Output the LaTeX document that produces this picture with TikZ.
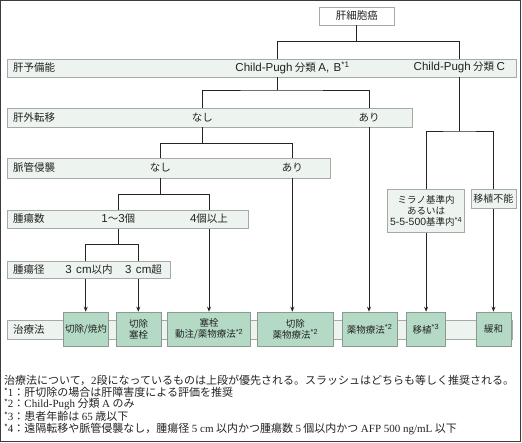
\documentclass[tikz,border=0pt]{standalone}
\usepackage{fontspec}
\setmainfont{Noto Sans CJK JP}
\newfontfamily\lserif{Liberation Serif}
\newfontfamily\lsans[Scale=1.1,WordSpace=1.4]{Liberation Sans}
\usetikzlibrary{arrows.meta}
\definecolor{bandfill}{RGB}{237,244,239}
\definecolor{bandline}{RGB}{165,170,167}
\definecolor{txfill}{RGB}{180,218,197}
\definecolor{txline}{RGB}{140,152,146}
\definecolor{ink}{RGB}{35,35,35}
\definecolor{framec}{RGB}{60,60,60}
\tikzset{
  band/.style={draw=bandline, fill=bandfill, line width=0.9pt, inner sep=0pt, anchor=north west},
  rootbox/.style={draw=bandline, fill=white, line width=0.9pt, inner sep=0pt, font=\fontsize{10.5}{12}\selectfont, text=ink},
  txbox/.style={draw=txline, fill=txfill, line width=0.9pt, inner sep=0pt, anchor=north west, align=center, font=\fontsize{9.5}{11}\selectfont, text=ink},
  condbox/.style={draw=bandline, fill=bandfill, line width=0.9pt, inner sep=0pt, anchor=north west, align=center, text=ink},
  lab/.style={font=\fontsize{10.5}{12}\selectfont, inner sep=0pt, text=ink},
  hdr/.style={lab, anchor=west},
  ln/.style={draw=ink, line width=0.9pt},
  arr/.style={ln, -{Stealth[length=5pt,width=4pt]}},
  fn/.style={font=\fontsize{11}{12}\selectfont, inner sep=0pt, anchor=west, text=ink}
}
\newcommand{\fst}{\raisebox{0.35ex}{\fontsize{8}{8}\selectfont *}}
\newcommand{\sst}[1]{\textsuperscript{\lsans *#1}}
\begin{document}
\begin{tikzpicture}[x=1pt,y=-1pt]
\useasboundingbox (0,0) rectangle (522,442);
\draw[framec, line width=1.2pt] (0.8,0.8) rectangle (520.6,441.2);

% root
\node[rootbox, minimum width=75pt, minimum height=18pt] (root) at (356.75,16) {肝細胞癌};

% bands
\node[band, minimum width=509pt, minimum height=18pt] (bA) at (7,58.5) {};
\node[band, minimum width=404.5pt, minimum height=18.5pt] (bB) at (7,108) {};
\node[band, minimum width=323pt, minimum height=19.5pt] (bC) at (7,158) {};
\node[band, minimum width=241pt, minimum height=18.5pt] (bD) at (7,209.5) {};
\node[band, minimum width=162.5pt, minimum height=17pt] (bE) at (7,261) {};
\node[band, minimum width=505pt, minimum height=18.5pt] (bF) at (7,320) {};

% band headers
\node[hdr] (hA) at (13,67.5) {肝予備能};
\node[hdr] (hB) at (13,117.3) {肝外転移};
\node[hdr] (hC) at (13,167.8) {脈管侵襲};
\node[hdr] (hD) at (13,218.8) {腫瘍数};
\node[hdr] (hE) at (13,269.5) {腫瘍径};
\node[hdr] (hF) at (13,329.2) {治療法};

% level A
\node[lab] (nA1) at (292.5,67.5) {{\lsans Child-Pugh} 分類 {\lsans A, B}\sst{1}};
\node[lab] (nA2) at (459.3,67.5) {{\lsans Child-Pugh} 分類 {\lsans C}};
\coordinate (kA1) at (277.5,67.5);
% level B
\node[lab] (nB1) at (202.3,117.3) {なし};
\node[lab] (nB2) at (369,117.3) {あり};
% level C
\node[lab] (nC1) at (160.3,167.8) {なし};
\node[lab] (nC2) at (292.3,167.8) {あり};
% level D
\node[lab] (nD1) at (118.3,218.8) {{\lsans 1}〜{\lsans 3}個};
\node[lab] (nD2) at (209,218.8) {{\lsans 4}個以上};
% level E
\node[lab] (nE1) at (89,269.5) {{\lsans 3 cm}以内};
\node[lab] (nE2) at (143.5,269.5) {{\lsans 3 cm}超};
\coordinate (kE1) at (85.7,269.5);
\coordinate (kE2) at (138.3,269.5);

% right-side condition boxes
\node[condbox, minimum width=76.7pt, minimum height=42.4pt, font=\fontsize{9.5}{11.3}\selectfont] (mil) at (387.3,189.3) {ミラノ基準内\\あるいは\\{\lsans 5-5-500}基準内\sst{4}};
\node[condbox, minimum width=45pt, minimum height=19.3pt, font=\fontsize{10}{12}\selectfont] (ni) at (470.5,189) {移植不能};

% treatment boxes
\node[txbox, minimum width=45.6pt, minimum height=34.3pt] (t1) at (62.7,311.7) {切除/焼灼};
\node[txbox, minimum width=45pt, minimum height=34.3pt] (t2) at (115.7,311.7) {切除\\塞栓};
\node[txbox, minimum width=82.7pt, minimum height=34.3pt] (t3) at (167.3,311.7) {塞栓\\動注/薬物療法\sst{2}};
\node[txbox, minimum width=76.6pt, minimum height=34.3pt] (t4) at (256.7,311.7) {切除\\薬物療法\sst{2}};
\node[txbox, minimum width=55pt, minimum height=34.3pt] (t5) at (341.7,311.7) {薬物療法\sst{2}};
\node[txbox, minimum width=39pt, minimum height=34.3pt] (t6) at (406,311.7) {移植\sst{3}};
\node[txbox, minimum width=35pt, minimum height=34.3pt] (t7) at (475.7,311.7) {緩和};

% connectors
\coordinate (jA) at (356.75,41.3);
\draw[ln] (root.south) -- (jA);
\draw[ln] (kA1 |- bA.north) |- (jA) -| (nA2 |- bA.north);

\coordinate (jB) at (277.5,90);
\draw[ln] (kA1 |- bA.south) -- (jB);
\draw[ln] (nB1 |- bB.north) |- (jB) -| (nB2 |- bB.north);

\coordinate (jC) at (202.3,143.3);
\draw[ln] (nB1 |- bB.south) -- (jC);
\draw[ln] (nC1 |- bC.north) |- (jC) -| (nC2 |- bC.north);

\coordinate (jD) at (160.3,194.3);
\draw[ln] (nC1 |- bC.south) -- (jD);
\draw[ln] (nD1 |- bD.north) |- (jD) -| (nD2 |- bD.north);

\coordinate (jE) at (118.3,244.7);
\draw[ln] (nD1 |- bD.south) -- (jE);
\draw[ln] (kE1 |- bE.north) |- (jE) -| (kE2 |- bE.north);

\coordinate (jR) at (459.3,131);
\draw[ln] (nA2 |- bA.south) -- (jR);
\draw[ln] (mil.north) |- (jR) -| (ni.north);

% arrows to treatments
\draw[arr] (kE1 |- bE.south) -- (kE1 |- t1.north);
\draw[arr] (kE2 |- bE.south) -- (kE2 |- t2.north);
\draw[arr] (nD2 |- bD.south) -- (nD2 |- t3.north);
\draw[arr] (nC2 |- bC.south) -- (nC2 |- t4.north);
\draw[arr] (nB2 |- bB.south) -- (nB2 |- t5.north);
\draw[arr] (mil.south) -- (mil.south |- t6.north);
\draw[arr] (ni.south) -- (ni.south |- t7.north);

% footnotes
\node[fn] (fn1) at (4,380) {治療法について，{\lserif 2}段になっているものは上段が優先される。スラッシュはどちらも等しく推奨される。};
\node[fn] (fn2) at (4,392.3) {\fst{\lserif 1}：肝切除の場合は肝障害度による評価を推奨};
\node[fn] (fn3) at (4,404.5) {\fst{\lserif 2}：{\lserif Child-Pugh} 分類 {\lserif A} のみ};
\node[fn] (fn4) at (4,416.7) {\fst{\lserif 3}：患者年齢は {\lserif 65} 歳以下};
\node[fn] (fn5) at (4,428.7) {\fst{\lserif 4}：遠隔転移や脈管侵襲なし，腫瘍径 {\lserif 5 cm} 以内かつ腫瘍数 {\lserif 5} 個以内かつ {\lserif AFP 500 ng/mL} 以下};
\end{tikzpicture}
\end{document}
